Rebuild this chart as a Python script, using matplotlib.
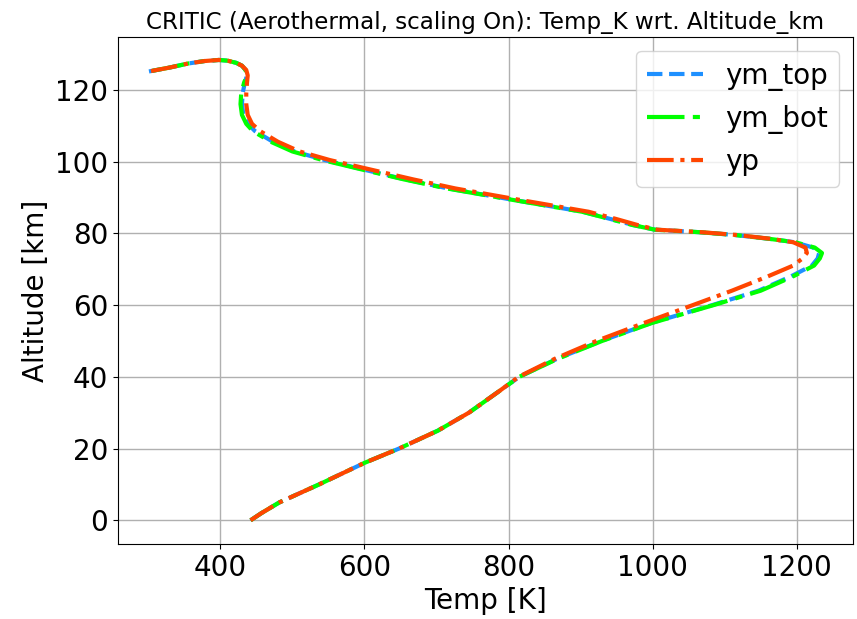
import matplotlib
matplotlib.use("Agg")
import matplotlib.pyplot as plt

# altitude samples along the profile (km), shared by the three series
altitude_km = [0, 2, 5, 10, 16, 20, 25, 30, 36, 40, 45, 50, 55, 60, 64, 68, 71, 73, 74.5,
               76, 77.5, 78.5, 79.5, 80.3, 81, 82.3, 84, 86, 89.5, 92.5, 95, 97.6, 100.4,
               102.8, 105.5, 108.5, 110.5, 113, 116, 119, 122, 124, 125.5, 126.7, 127.5,
               128.1, 128.3, 128.0, 127.3, 126.2, 125.1]

# temperature (K)
ym_bot = [442, 457, 482, 537, 600, 648, 702, 745, 787, 815, 868, 930, 999, 1085, 1150, 1195,
          1224, 1232, 1235, 1225, 1198, 1160, 1115, 1065, 1003, 972, 940, 902, 800, 714, 655,
          600, 542, 500, 470, 445, 436, 430, 428, 429, 433, 437, 435, 430, 422, 410, 398, 378,
          355, 330, 301]
ym_top = [442, 457, 482, 537, 600, 648, 702, 745, 787, 815, 867, 929, 998, 1083, 1147, 1192,
          1221, 1229, 1231, 1223, 1197, 1160, 1115, 1065, 1003, 973, 941, 903, 801, 716, 657,
          602, 545, 503, 473, 448, 438, 432, 430, 431, 434, 437, 435, 430, 422, 410, 398, 378,
          355, 330, 301]
yp = [442, 457, 482, 537, 600, 648, 702, 745, 787, 814, 864, 922, 988, 1056, 1110, 1160,
      1195, 1208, 1214, 1212, 1195, 1162, 1118, 1068, 1006, 979, 949, 911, 810, 726, 668,
      612, 552, 510, 480, 455, 444, 438, 436, 436, 437, 438, 436, 430, 422, 410, 398, 378,
      355, 330, 301]

xticks = [400, 600, 800, 1000, 1200]
yticks = [0, 20, 40, 60, 80, 100, 120]

fig = plt.figure(figsize=(8.57, 6.19), dpi=100)
ax = fig.add_axes([118 / 857, 1 - 544 / 619, (853 - 118) / 857, (544 - 37) / 619])

ax.plot(ym_top, altitude_km, color="dodgerblue", lw=3, ls="--", label="ym_top")
ax.plot(ym_bot, altitude_km, color="lime", lw=3, ls=(0, (9, 2, 1.7, 2)), label="ym_bot")
ax.plot(yp, altitude_km, color="orangered", lw=3, ls="-.", label="yp")

ax.set_xlim(258, 1278)
ax.set_ylim(-6.6, 134.7)
ax.set_xticks(xticks)
ax.set_yticks(yticks)
ax.tick_params(labelsize=20)
ax.grid(True, color="#b0b0b0", lw=1)

ax.set_xlabel("Temp [K]", fontsize=20)
ax.set_ylabel("Altitude [km]", fontsize=20)
ax.set_title("CRITIC (Aerothermal, scaling On): Temp_K wrt. Altitude_km", fontsize=16.6)
ax.legend(loc="upper right", fontsize=20)

fig.savefig("out.png", dpi=100)
